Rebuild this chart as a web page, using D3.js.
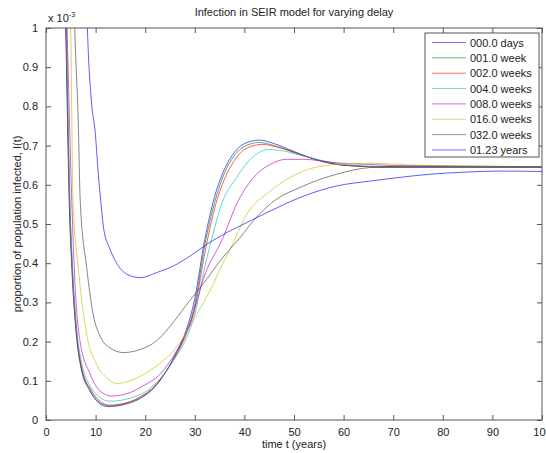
<html>
<head>
<script src="https://d3js.org/d3.v7.min.js"></script>
<style>
  body { margin: 0; background: white; }
  text { font-family: "Liberation Sans", Arial, sans-serif; fill: #222; }
</style>
</head>
<body>
<div id="chart"></div>
<script>
// proportion infected (x 10^-3) against time in years
const d000days = [[3.5,1.25],[4.0,0.98],[4.7,0.55],[5.2,0.39],[6.1,0.22],[7.1,0.13],[8.8,0.075],[10.5,0.045],[12.5,0.034],[14.5,0.036],[16.5,0.042],[19,0.055],[22,0.085],[24,0.12],[26,0.165],[28,0.22],[30,0.31],[32,0.46],[34,0.57],[36,0.64],[38,0.683],[40,0.705],[43,0.714],[46,0.705],[50,0.685],[55,0.662],[60,0.65],[70,0.645],[85,0.645],[100,0.645]];
const d001week = [[3.6,1.25],[4.05,0.98],[4.75,0.55],[5.25,0.39],[6.15,0.22],[7.2,0.13],[8.9,0.077],[10.6,0.047],[12.6,0.036],[14.6,0.038],[16.6,0.044],[19,0.057],[22,0.086],[24,0.12],[26,0.163],[28,0.215],[30,0.295],[32,0.445],[34,0.555],[36,0.63],[38,0.675],[40,0.698],[43,0.708],[46,0.70],[50,0.683],[55,0.662],[60,0.65],[70,0.645],[85,0.645],[100,0.645]];
const d002weeks = [[3.7,1.25],[4.1,0.98],[4.8,0.55],[5.3,0.39],[6.2,0.22],[7.25,0.13],[9,0.078],[10.7,0.05],[12.7,0.038],[14.7,0.04],[16.7,0.046],[19,0.059],[22,0.088],[24,0.12],[26,0.16],[28,0.21],[30,0.285],[32,0.425],[34,0.54],[36,0.615],[38,0.662],[40,0.69],[43.5,0.703],[47,0.695],[51,0.678],[55,0.663],[60,0.65],[70,0.645],[85,0.645],[100,0.645]];
const d004weeks = [[3.75,1.25],[4.15,0.98],[4.85,0.55],[5.35,0.39],[6.25,0.225],[7.3,0.14],[9,0.085],[10.8,0.058],[12.8,0.048],[15,0.05],[17,0.056],[19.5,0.068],[22,0.092],[24,0.12],[26,0.158],[28,0.20],[30,0.27],[32,0.39],[34,0.49],[35.1,0.54],[38.4,0.618],[41.8,0.672],[45,0.69],[48,0.686],[52,0.673],[56,0.661],[60,0.652],[70,0.646],[85,0.645],[100,0.645]];
const d008weeks = [[3.8,1.25],[4.3,0.98],[5.2,0.559],[5.85,0.346],[6.85,0.202],[8.9,0.117],[10.9,0.074],[13.2,0.061],[16.3,0.067],[19.6,0.087],[23,0.117],[26.3,0.176],[29,0.244],[32,0.37],[35.7,0.465],[38.4,0.55],[41.8,0.618],[45.2,0.652],[48.5,0.665],[51.9,0.665],[58.6,0.656],[65,0.652],[75,0.647],[100,0.645]];
const d016weeks = [[4.6,1.25],[5.0,0.98],[5.45,0.56],[6.5,0.389],[8.2,0.219],[10.2,0.142],[12.2,0.108],[14.2,0.093],[16.9,0.1],[20.3,0.121],[23.6,0.151],[27,0.197],[30.4,0.27],[33.7,0.346],[35.1,0.385],[37.1,0.435],[40.5,0.525],[45.2,0.584],[51.9,0.635],[58.6,0.652],[65,0.655],[75,0.65],[100,0.646]];
const d032weeks = [[5.4,1.2],[5.85,0.98],[6.5,0.763],[6.9,0.559],[8.2,0.389],[9.5,0.27],[10.9,0.214],[12.9,0.184],[15.6,0.172],[19,0.18],[22.3,0.202],[25.7,0.25],[29,0.305],[32.4,0.359],[35.1,0.406],[39.1,0.465],[41.8,0.508],[45.2,0.551],[51.9,0.597],[58.6,0.627],[65.3,0.644],[75,0.648],[100,0.646]];
const d123years = [[8.0,1.15],[8.4,0.98],[9.2,0.806],[9.9,0.737],[10.5,0.635],[11.2,0.538],[11.6,0.49],[12.9,0.436],[14.2,0.401],[16.3,0.372],[19,0.363],[22.3,0.376],[25.7,0.393],[29,0.418],[32.4,0.448],[36.4,0.478],[39.1,0.495],[45.2,0.533],[51.9,0.571],[58.6,0.597],[65,0.609],[70.7,0.618],[77.4,0.627],[84,0.632],[91,0.635],[100,0.634]];

const seriesNames = ["000.0 days", "001.0 week", "002.0 weeks", "004.0 weeks", "008.0 weeks", "016.0 weeks", "032.0 weeks", "01.23 years"];
const seriesData = [d000days, d001week, d002weeks, d004weeks, d008weeks, d016weeks, d032weeks, d123years];
const seriesColors = ["#0000ff", "#008000", "#ff0000", "#00bfbf", "#bf00bf", "#bfbf00", "#404040", "#0000ff"];

const xTicks = [0, 10, 20, 30, 40, 50, 60, 70, 80, 90, 100];
const yTicks = [0, 0.1, 0.2, 0.3, 0.4, 0.5, 0.6, 0.7, 0.8, 0.9, 1];

const w = 546;
const h = 453;
const padL = 46, padR = 542, padT = 28, padB = 420;

const svg = d3.select("#chart").append("svg")
    .attr("width", w)
    .attr("height", h);

const xScale = d3.scaleLinear().domain([0, 100]).range([padL, padR]);
const yScale = d3.scaleLinear().domain([0, 1]).range([padB, padT]);

svg.append("clipPath").attr("id", "plotclip")
    .append("rect")
    .attr("x", padL).attr("y", padT)
    .attr("width", padR - padL).attr("height", padB - padT);

// curves
const line = d3.line()
    .x(d => xScale(d[0]))
    .y(d => yScale(d[1]))
    .curve(d3.curveMonotoneX);

svg.append("g")
    .attr("clip-path", "url(#plotclip)")
    .selectAll("path")
    .data(seriesData)
    .enter()
    .append("path")
    .attr("d", line)
    .attr("fill", "none")
    .attr("stroke", (d, i) => seriesColors[i])
    .attr("stroke-width", 0.8)
    .attr("opacity", 0.8);

// axes, ticks pointing inward on all four sides
const fmtY = d => d === 0 ? "0" : d === 1 ? "1" : d3.format(".1f")(d);

const xAxis = d3.axisBottom(xScale).tickValues(xTicks).tickSizeInner(-5).tickSizeOuter(0).tickPadding(8);
const yAxis = d3.axisLeft(yScale).tickValues(yTicks).tickSizeInner(-5).tickSizeOuter(0).tickPadding(8).tickFormat(fmtY);
const xTop = d3.axisTop(xScale).tickValues(xTicks).tickSizeInner(-5).tickSizeOuter(0).tickFormat("");
const yRight = d3.axisRight(yScale).tickValues(yTicks).tickSizeInner(-5).tickSizeOuter(0).tickFormat("");

function styleAxis(g) {
    g.select(".domain").remove();
    g.selectAll("line").attr("stroke", "#555");
    g.selectAll("text").style("font-size", "11px").attr("fill", "#222");
}

svg.append("g").attr("transform", "translate(0," + padB + ")").call(xAxis).call(styleAxis);
svg.append("g").attr("transform", "translate(" + padL + ",0)").call(yAxis).call(styleAxis);
svg.append("g").attr("transform", "translate(0," + padT + ")").call(xTop).call(styleAxis);
svg.append("g").attr("transform", "translate(" + padR + ",0)").call(yRight).call(styleAxis);

svg.append("rect")
    .attr("x", padL).attr("y", padT)
    .attr("width", padR - padL).attr("height", padB - padT)
    .attr("fill", "none")
    .attr("stroke", "#555");

// exponent note
const expo = svg.append("text")
    .attr("x", 48).attr("y", 22)
    .style("font-size", "11px");
expo.append("tspan").text("x 10");
expo.append("tspan").attr("dy", -5).style("font-size", "7px").text("-3");

// titles
svg.append("text")
    .attr("x", (padL + padR) / 2).attr("y", 16)
    .attr("text-anchor", "middle")
    .style("font-size", "11px")
    .text("Infection in SEIR model for varying delay");

svg.append("text")
    .attr("x", (padL + padR) / 2).attr("y", 448)
    .attr("text-anchor", "middle")
    .style("font-size", "11px")
    .text("time t (years)");

svg.append("text")
    .attr("transform", "translate(21," + (padT + padB) / 2 + ") rotate(-90)")
    .attr("text-anchor", "middle")
    .style("font-size", "11px")
    .text("proportion of population infected, I(t)");

// legend
const legend = svg.append("g");
legend.append("rect")
    .attr("x", 425).attr("y", 33)
    .attr("width", 114).attr("height", 124)
    .attr("fill", "white")
    .attr("stroke", "#555");

const rows = legend.selectAll(".row")
    .data(seriesNames)
    .enter()
    .append("g")
    .attr("class", "row")
    .attr("transform", (d, i) => "translate(0," + (42.5 + i * 15.35) + ")");

rows.append("line")
    .attr("x1", 432).attr("x2", 466)
    .attr("stroke", (d, i) => seriesColors[i])
    .attr("stroke-width", 0.8)
    .attr("opacity", 0.7);

rows.append("text")
    .attr("x", 470).attr("y", 4)
    .style("font-size", "11px")
    .text(d => d);
</script>
</body>
</html>
